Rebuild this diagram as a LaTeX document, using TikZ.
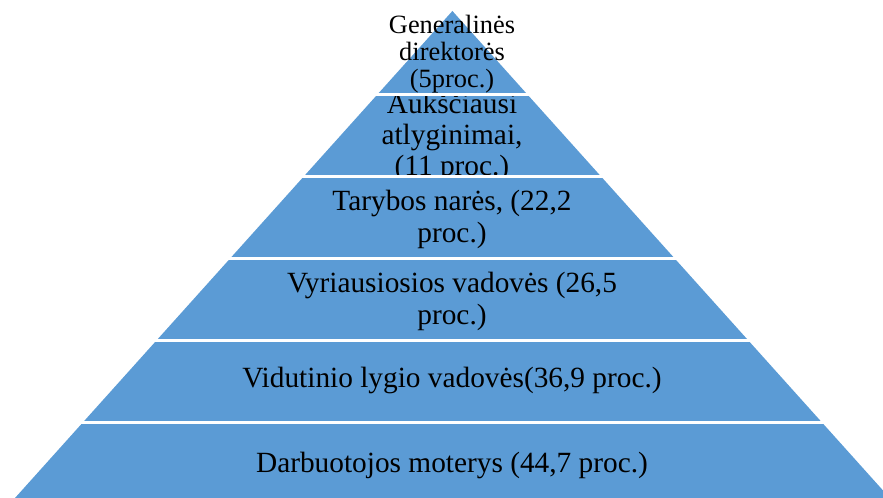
\documentclass[tikz,border=0pt]{standalone}
\usepackage{fontspec}
\setmainfont{Liberation Serif}
\definecolor{pyr}{HTML}{5B9BD5}
\begin{document}
\begin{tikzpicture}[x=0.75pt,y=-0.75pt,
  lbl/.style={anchor=base,inner sep=0pt,font=\fontsize{22}{24}\selectfont},
  lbltop/.style={anchor=base,inner sep=0pt,font=\fontsize{19.8}{22}\selectfont},
  gapline/.style={draw=white,line width=2.25pt}]
\useasboundingbox (0,0) rectangle (883,498);
\clip (0,0) rectangle (883,498);
\coordinate (apex) at (452.4,11);
\coordinate (bl) at (15,498);
\coordinate (br) at (889.8,498);
\fill[pyr] (apex) -- (bl) -- (br) -- cycle;
% band 1
\begin{scope}
\clip (0,0) rectangle (883,94.7);
\node[lbltop] (g1) at (452,33.3) {Generalinės};
\node[lbltop] (g2) at (452,60.7) {direktorės};
\node[lbltop] (g3) at (452,87.3) {(5proc.)};
\end{scope}
% band 2
\begin{scope}
\clip (0,94.7) rectangle (883,175.3);
\node[lbl] (a1) at (452,114) {Aukščiausi};
\node[lbl] (a2) at (452,145) {atlyginimai,};
\node[lbl] (a3) at (452,176) {(11 proc.)};
\end{scope}
% band 3
\node[lbl] (t1) at (452,211) {Tarybos narės, (22,2};
\node[lbl] (t2) at (452,243) {proc.)};
% band 4
\node[lbl] (v1) at (452,293) {Vyriausiosios vadovės (26,5};
\node[lbl] (v2) at (452,325) {proc.)};
% band 5
\node[lbl] (m1) at (452,388) {Vidutinio lygio vadovės(36,9 proc.)};
% band 6
\node[lbl] (d1) at (452,473) {Darbuotojos moterys (44,7 proc.)};
% gaps
\foreach \y in {94.7,176.6,258.5,340.4,422.3}
  \draw[gapline] (0,\y) -- (883,\y);
\end{tikzpicture}
\end{document}
